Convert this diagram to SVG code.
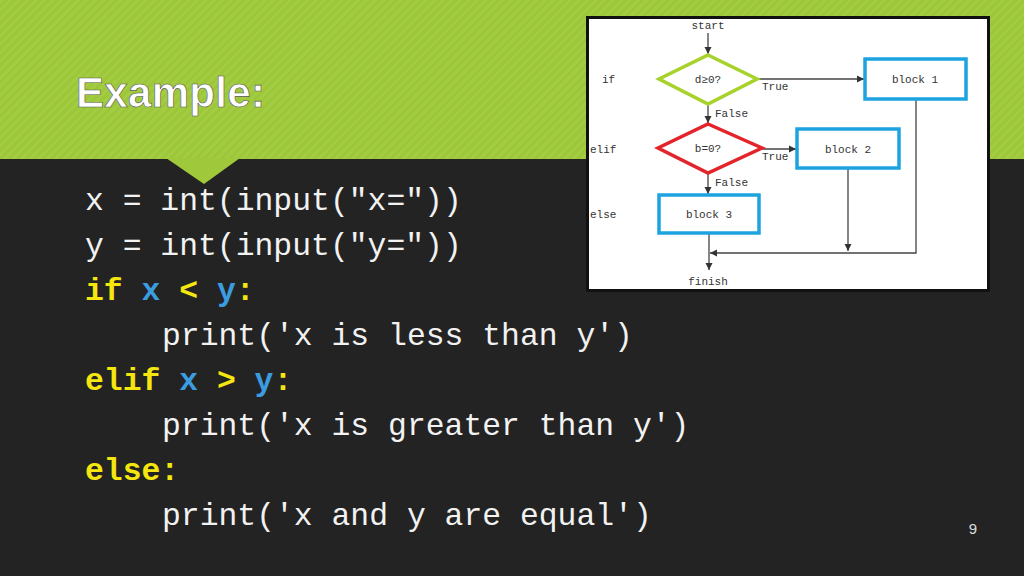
<svg xmlns="http://www.w3.org/2000/svg" width="1024" height="576" viewBox="0 0 1024 576">
<style>
.code{font-family:"Liberation Mono",monospace;font-size:31.4px;fill:#f2f2f2}
.kw{fill:#f5e60f;font-weight:bold}
.vr{fill:#3b9de0;font-weight:bold}
.fc{font-family:"Liberation Mono",monospace;font-size:11px;fill:#333}
.ln{stroke:#444;stroke-width:1.3;fill:none}
.blk{fill:#fff;stroke:#1ca3e0;stroke-width:3.5}
</style>
<defs>
<marker id="a" markerWidth="8" markerHeight="8" refX="7" refY="4" orient="auto" markerUnits="userSpaceOnUse"><path d="M0,0.5 L7,4 L0,7.5 z" fill="#333"/></marker>
<pattern id="st" width="6" height="6" patternUnits="userSpaceOnUse" patternTransform="rotate(45)"><rect width="6" height="6" fill="#9dc73a"/><rect width="3" height="6" fill="#a3cc40"/></pattern>
</defs>
<rect width="1024" height="576" fill="#232323"/>
<rect width="1024" height="159" fill="url(#st)"/>
<path d="M166,158 L240,158 L204,184 z" fill="#9fc93b"/>
<text x="76" y="107" font-family="Century Gothic,'Liberation Sans',sans-serif" font-size="42" font-weight="bold" fill="#fff" stroke="#555" stroke-width="0.6" textLength="189">Example:</text>
<g id="code">
<text class="code" x="85" y="210">x = int(input("x="))</text>
<text class="code" x="85" y="255">y = int(input("y="))</text>
<text class="code" x="85" y="300"><tspan class="kw">if</tspan> <tspan class="vr">x</tspan> <tspan class="kw">&lt;</tspan> <tspan class="vr">y</tspan><tspan class="kw">:</tspan></text>
<text class="code" x="162" y="345">print('x is less than y')</text>
<text class="code" x="85" y="390"><tspan class="kw">elif</tspan> <tspan class="vr">x</tspan> <tspan class="kw">&gt;</tspan> <tspan class="vr">y</tspan><tspan class="kw">:</tspan></text>
<text class="code" x="162" y="435">print('x is greater than y')</text>
<text class="code" x="85" y="480"><tspan class="kw">else:</tspan></text>
<text class="code" x="162" y="525">print('x and y are equal')</text>
</g>
<text x="973" y="534" font-family="'Liberation Sans',sans-serif" font-size="15" fill="#ddd" text-anchor="middle">9</text>
<rect x="587.5" y="17.5" width="401" height="273" fill="#fff" stroke="#111" stroke-width="3"/>
<g id="connectors">
<line class="ln" x1="708" y1="33" x2="708" y2="54" marker-end="url(#a)"/>
<line class="ln" x1="757" y1="79" x2="864" y2="79" marker-end="url(#a)"/>
<line class="ln" x1="708" y1="104" x2="708" y2="123" marker-end="url(#a)"/>
<line class="ln" x1="762" y1="149" x2="796" y2="149" marker-end="url(#a)"/>
<line class="ln" x1="708" y1="173" x2="708" y2="194" marker-end="url(#a)"/>
<line class="ln" x1="709" y1="234" x2="709" y2="270" marker-end="url(#a)"/>
<line class="ln" x1="848" y1="169" x2="848" y2="251" marker-end="url(#a)"/>
<polyline class="ln" points="916,100 916,253 710,253" marker-end="url(#a)"/>
</g>
<g id="start"><text class="fc" x="708" y="29" text-anchor="middle">start</text></g>
<g id="finish"><text class="fc" x="708" y="285" text-anchor="middle">finish</text></g>
<g id="labels">
<text class="fc" x="602" y="83">if</text>
<text class="fc" x="590" y="153">elif</text>
<text class="fc" x="590" y="218">else</text>
<text class="fc" x="762" y="90">True</text>
<text class="fc" x="715" y="117">False</text>
<text class="fc" x="762" y="160">True</text>
<text class="fc" x="715" y="186">False</text>
</g>
<g id="d1"><polygon points="708,55 757,79 708,104 659,79" fill="#fff" stroke="#a6d22a" stroke-width="3.5"/><text class="fc" x="708" y="83" text-anchor="middle">d≥0?</text></g>
<g id="d2"><polygon points="708,124 762,148 708,173 658,148" fill="#fff" stroke="#e3242b" stroke-width="3.5"/><text class="fc" x="708" y="152" text-anchor="middle">b=0?</text></g>
<g id="b1"><rect class="blk" x="865" y="59" width="101" height="40"/><text class="fc" x="915" y="83" text-anchor="middle">block 1</text></g>
<g id="b2"><rect class="blk" x="797" y="129" width="102" height="39"/><text class="fc" x="848" y="153" text-anchor="middle">block 2</text></g>
<g id="b3"><rect class="blk" x="659" y="195" width="100" height="38"/><text class="fc" x="709" y="218" text-anchor="middle">block 3</text></g>
</svg>
